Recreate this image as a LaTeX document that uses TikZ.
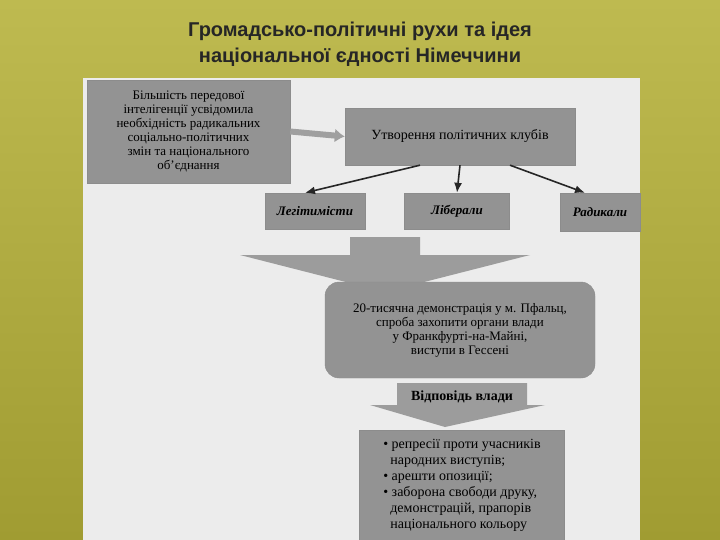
\documentclass[tikz,border=0pt]{standalone}
\usepackage{fontspec}
\usetikzlibrary{arrows.meta}
\setmainfont{Liberation Serif}
\newfontfamily\titlefont{Liberation Sans}
\begin{document}
\begin{tikzpicture}[x=1pt,y=-1pt,
 gbox/.style={fill=gray!85,draw=gray!90,inner sep=2pt,align=center,font=\fontsize{13}{14}\selectfont},
 arr/.style={-{Latex[length=10pt,width=8pt]},line width=1.6pt,draw=black!85}]
\useasboundingbox (0,0) rectangle (720,540);
\shade[top color={rgb,255:red,190;green,186;blue,80},bottom color={rgb,255:red,160;green,156;blue,50}] (0,0) rectangle (720,540);
\node[font=\titlefont\bfseries\fontsize{20}{26}\selectfont,text=black!85,align=center] (title) at (360,44) {Громадсько-політичні рухи та ідея\\національної єдності Німеччини};
\fill[gray!15] (83,78) rectangle (640,540);
\node[gbox,minimum width=203,minimum height=103] (b1) at (188.5,131.5) {Більшість передової\\інтелігенції усвідомила\\необхідність радикальних\\соціально-політичних\\змін та національного\\об'єднання};
\node[gbox,minimum width=230,minimum height=57,font=\fontsize{14}{16}\selectfont] (b2) at (460,136.5) {Утворення політичних клубів};
\draw[-{Latex[length=10pt,width=14pt]},line width=6pt,gray!75] (b1.east) -- (b2.west);
\node[gbox,minimum width=100,minimum height=36,font=\bfseries\itshape\fontsize{13}{15}\selectfont] (l1) at (315,211) {Легітимісти};
\node[gbox,minimum width=105,minimum height=36,font=\bfseries\itshape\fontsize{13}{15}\selectfont] (l2) at (457,211) {Ліберали};
\node[gbox,minimum width=80,minimum height=38,font=\bfseries\itshape\fontsize{13}{15}\selectfont] (l3) at (600,212) {Радикали};
\draw[arr] ([xshift=-40pt]b2.south) -- ([xshift=-10pt]l1.north);
\draw[arr] (b2.south) -- (l2.north);
\draw[arr] ([xshift=50pt]b2.south) -- ([xshift=-15pt]l3.north);
\fill[gray!78] (350,237) -- (420,237) -- (420,255) -- (530,255) -- (385,292) -- (240,255) -- (350,255) -- cycle;
\node[gbox,rounded corners=14pt,minimum width=270,minimum height=96] (b3) at (460,330) {20-тисячна демонстрація у м. Пфальц,\\спроба захопити органи влади\\у Франкфурті-на-Майні,\\виступи в Гессені};
\fill[gray!78] (397,383) -- (527,383) -- (527,405) -- (545,405) -- (445,427) -- (370,405) -- (397,405) -- cycle;
\node[font=\bfseries\fontsize{14}{16}\selectfont] (v) at (462,397) {Відповідь влади};
\node[gbox,minimum width=205,minimum height=110,align=left,font=\fontsize{14}{16}\selectfont] (b4) at (462,485) {• репресії проти учасників\\\ \ народних виступів;\\• арешти опозиції;\\• заборона свободи друку,\\\ \ демонстрацій, прапорів\\\ \ національного кольору};
\end{tikzpicture}
\end{document}
